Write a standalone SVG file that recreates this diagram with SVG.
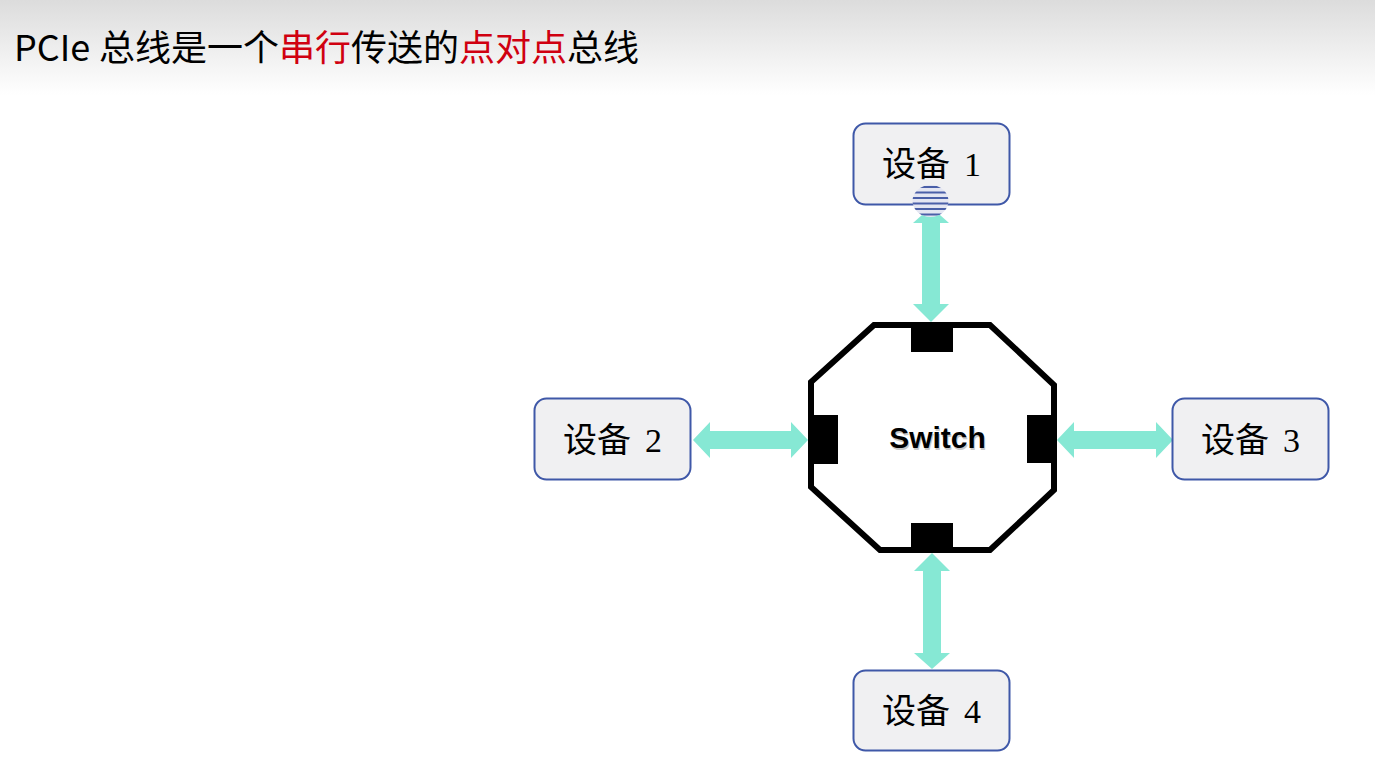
<svg xmlns="http://www.w3.org/2000/svg" width="1375" height="770" viewBox="0 0 1375 770">
  <defs>
    <linearGradient id="hdr" x1="0" y1="0" x2="0" y2="1">
      <stop offset="0" stop-color="#dcdcdc"/>
      <stop offset="1" stop-color="#ffffff"/>
    </linearGradient>
    <clipPath id="stripeClip">
      <ellipse cx="930.5" cy="201" rx="18" ry="16"/>
    </clipPath>
    <style>
      .dev rect { fill: #f0f0f2; stroke: #3f58a8; stroke-width: 2; }
      .dev text { font-family: "Liberation Serif", "Noto Sans CJK SC", serif; font-size: 34px; fill: #000; text-anchor: middle; }
      .arrow { fill: #86e8d4; }
      .port { fill: #000; }
      .title { font-family: "Noto Sans CJK SC", sans-serif; font-size: 36px; fill: #000; }
      .red { fill: #d00010; }
    </style>
  </defs>

  <rect x="0" y="0" width="1375" height="95" fill="url(#hdr)"/>
  <text class="title" y="61"><tspan x="14">PCIe</tspan><tspan x="99">总线是一个</tspan><tspan class="red">串行</tspan><tspan>传送的</tspan><tspan class="red">点对点</tspan><tspan>总线</tspan></text>

  <g id="connectors">
    <polygon class="arrow" points="931,207 949,223 940,223 940,304 949,304 931,322 913,304 922,304 922,223 913,223"/>
    <polygon class="arrow" points="693,440 710,422 710,431 791,431 791,422 808,440 791,458 791,449 710,449 710,458"/>
    <polygon class="arrow" points="1057,440 1074,422 1074,431 1156,431 1156,422 1173,440 1156,458 1156,449 1074,449 1074,458"/>
    <polygon class="arrow" points="932,553 950,571 941,571 941,653 950,653 932,669 914,653 923,653 923,571 914,571"/>
  </g>

  <g id="switch">
    <path d="M874,325 L990,325 L1054,385 L1054,490 L990,550 L880,550 L811,487 L811,382 Z" fill="#ffffff" stroke="#000" stroke-width="6" stroke-linejoin="miter"/>
    <rect class="port" x="911" y="322" width="42" height="30"/>
    <rect class="port" x="911" y="523" width="42" height="30"/>
    <rect class="port" x="808" y="415" width="30" height="49"/>
    <rect class="port" x="1027" y="415" width="30" height="48"/>
    <text x="937.5" y="448" text-anchor="middle" font-family="Liberation Sans, sans-serif" font-weight="bold" font-size="30" fill="#c8c8c8" transform="translate(1,1.5)">Switch</text>
    <text x="937.5" y="448" text-anchor="middle" font-family="Liberation Sans, sans-serif" font-weight="bold" font-size="30" fill="#000">Switch</text>
  </g>

  <g id="device1" class="dev">
    <rect x="853.5" y="123.5" width="156" height="81" rx="12"/>
    <text x="931.5" y="176">设备<tspan dx="14">1</tspan></text>
  </g>
  <g id="device1-stripes" clip-path="url(#stripeClip)" stroke="#4a5fa8" stroke-width="2">
    <rect x="912" y="185" width="37" height="32" fill="#e4e6f2" stroke="none"/>
    <line x1="910" y1="187" x2="952" y2="187"/>
    <line x1="910" y1="192.5" x2="952" y2="192.5"/>
    <line x1="910" y1="198" x2="952" y2="198"/>
    <line x1="910" y1="203.5" x2="952" y2="203.5"/>
    <line x1="910" y1="209" x2="952" y2="209"/>
    <line x1="910" y1="214.5" x2="952" y2="214.5"/>
  </g>

  <g id="device2" class="dev">
    <rect x="534.5" y="398.5" width="156" height="81" rx="12"/>
    <text x="612.5" y="452">设备<tspan dx="14">2</tspan></text>
  </g>

  <g id="device3" class="dev">
    <rect x="1172.5" y="398.5" width="156" height="81" rx="12"/>
    <text x="1250.5" y="452">设备<tspan dx="14">3</tspan></text>
  </g>

  <g id="device4" class="dev">
    <rect x="853.5" y="670.5" width="156" height="80" rx="12"/>
    <text x="931.5" y="723">设备<tspan dx="14">4</tspan></text>
  </g>
</svg>
